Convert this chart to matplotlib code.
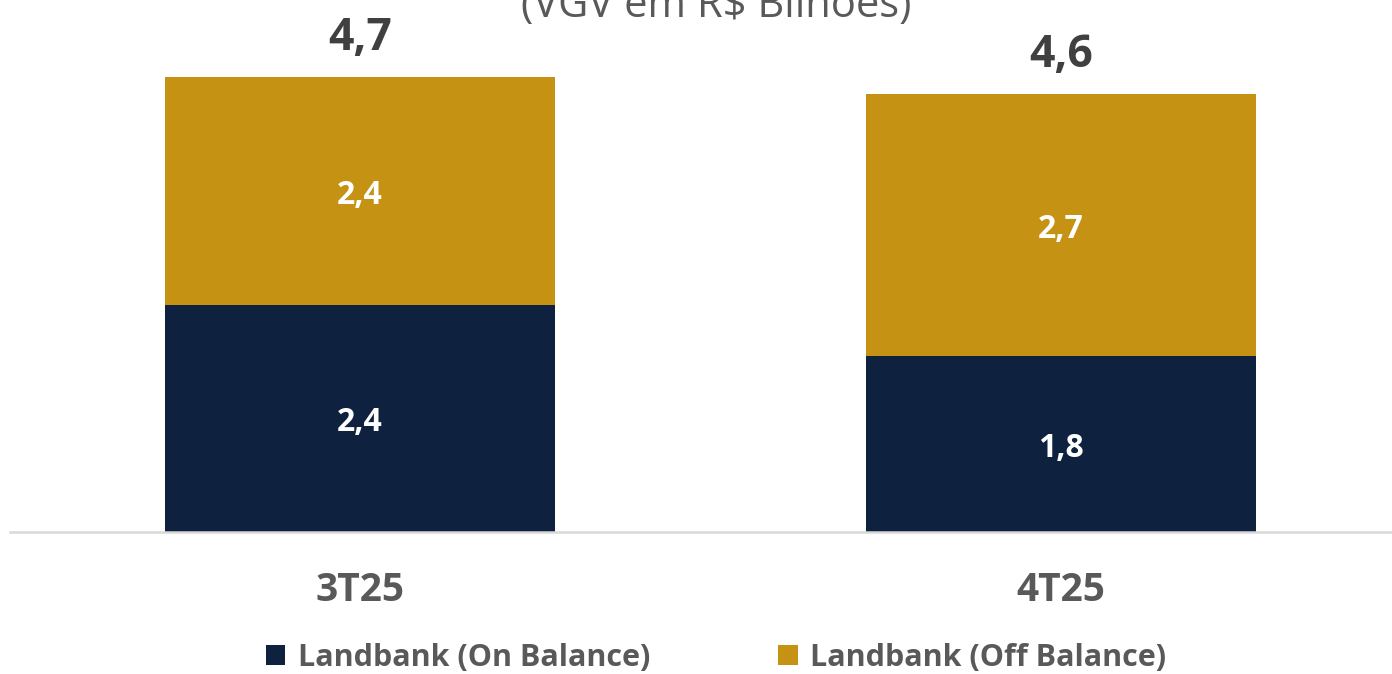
import matplotlib
matplotlib.use("Agg")
import matplotlib.pyplot as plt

plt.rcParams['font.family'] = ['Open Sans', 'DejaVu Sans']

# --- data ---
categories = ["3T25", "4T25"]
on_balance = [2.36, 1.83]
off_balance = [2.38, 2.73]
on_labels = ["2,4", "1,8"]
off_labels = ["2,4", "2,7"]
total_labels = ["4,7", "4,6"]
series_names = ["Landbank (On Balance)", "Landbank (Off Balance)"]
title = "(VGV em R$ Bilhões)"

NAVY = "#0e2240"
GOLD = "#c69214"
GREY = "#595959"
DARK = "#404040"

W, H = 1392, 674
fig = plt.figure(figsize=(W / 100, H / 100), dpi=100)
ax = fig.add_axes([10 / W, 142 / H, 1 - 10 / W, 532 / H])

x = list(range(len(categories)))
totals = [a + b for a, b in zip(on_balance, off_balance)]

b1 = ax.bar(x, on_balance, width=0.556, color=NAVY, label=series_names[0])
b2 = ax.bar(x, off_balance, width=0.556, bottom=on_balance, color=GOLD,
            label=series_names[1])

for i in x:
    ax.text(i, on_balance[i] / 2, on_labels[i], ha="center",
            va="center_baseline", color="white", fontsize=23,
            fontweight="bold")
    ax.text(i, on_balance[i] + off_balance[i] / 2, off_labels[i], ha="center",
            va="center_baseline", color="white", fontsize=23,
            fontweight="bold")
    ax.annotate(total_labels[i], (i, totals[i]), xytext=(0, 32),
                textcoords="offset points", ha="center",
                va="center_baseline", color=DARK, fontsize=32,
                fontweight="bold")

ax.set_xlim(-0.499, 1.472)
ax.set_ylim(0, 532 / 96)
ax.set_yticks([])
ax.set_xticks(x)
ax.set_xticklabels(categories, fontsize=28, fontweight="bold", color=GREY)
ax.tick_params(axis="x", length=0, pad=28)
for s in ["top", "right", "left"]:
    ax.spines[s].set_visible(False)
ax.spines["bottom"].set_color("#d9d9d9")
ax.spines["bottom"].set_linewidth(1.8)

# title is partly outside the top edge, as in the original
fig.text(716 / W, 1 - 17 / H, title, ha="center", va="baseline", fontsize=30,
         color=GREY)

leg = fig.legend(handles=[b1, b2], loc="center", ncol=2,
                 bbox_to_anchor=(716 / W, 1 - 658 / H), frameon=False,
                 handlelength=0.65, handleheight=0.65, handletextpad=0.4,
                 columnspacing=4.2, fontsize=22)
for t in leg.get_texts():
    t.set_color(GREY)
    t.set_fontweight("bold")

fig.savefig("out.png", dpi=100)
